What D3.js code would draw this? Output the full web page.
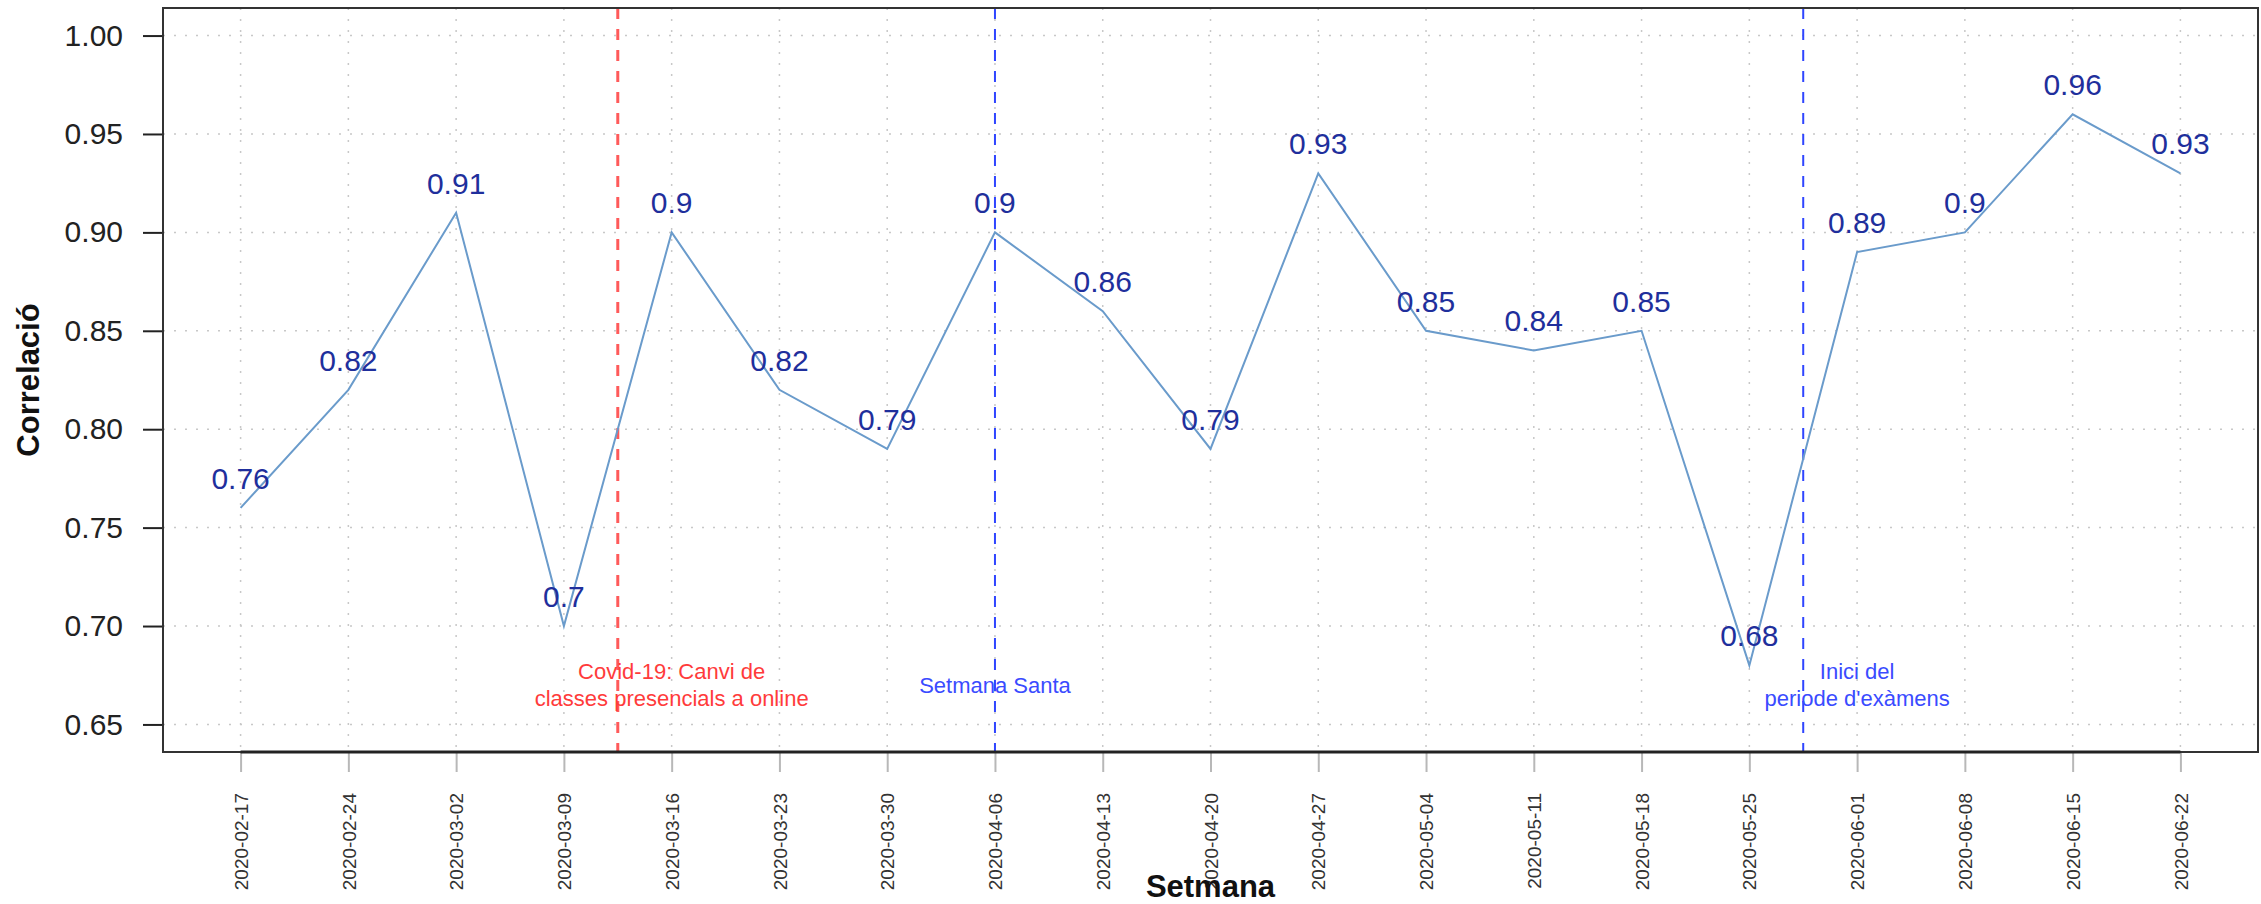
<!DOCTYPE html>
<html>
<head>
<meta charset="utf-8">
<script src="https://cdn.jsdelivr.net/npm/d3@7"></script>
<style>
  body { margin: 0; background: #fff; }
  svg { display: block; font-family: "Liberation Sans", Arial, Helvetica, sans-serif; }
</style>
</head>
<body>
<div id="chart"></div>
<script>
// weeks on the x axis
let weeks = ["2020-02-17", "2020-02-24", "2020-03-02", "2020-03-09", "2020-03-16",
    "2020-03-23", "2020-03-30", "2020-04-06", "2020-04-13", "2020-04-20",
    "2020-04-27", "2020-05-04", "2020-05-11", "2020-05-18", "2020-05-25",
    "2020-06-01", "2020-06-08", "2020-06-15", "2020-06-22"];
let corr = [0.76, 0.82, 0.91, 0.70, 0.90, 0.82, 0.79, 0.90, 0.86, 0.79,
    0.93, 0.85, 0.84, 0.85, 0.68, 0.89, 0.90, 0.96, 0.93];
let yTicks = [0.65, 0.70, 0.75, 0.80, 0.85, 0.90, 0.95, 1.00];

// event markers (position in week index, 1-based)
let eventPos = [4.5, 8, 15.5];
let eventColor = ["#ff5a5a", "#2f45ff", "#2f45ff"];
let noteX = [5, 8, 16];
let noteY = [0.67, 0.67, 0.67];
let noteText = [
    ["Covid-19: Canvi de", "classes presencials a online"],
    ["Setmana Santa"],
    ["Inici del", "periode d'exàmens"]
];
let noteColor = ["#ff3b3b", "#3a4bff", "#3a4bff"];

let width = 2261, height = 904;
let plot = { left: 163, right: 2258, top: 8, bottom: 752 };

let svg = d3.select("#chart")
    .append("svg")
    .attr("width", width)
    .attr("height", height);

let x = d3.scaleLinear()
    .domain([1 - 0.72, weeks.length + 0.72])
    .range([plot.left, plot.right]);
let y = d3.scaleLinear()
    .domain([0.636, 1.014])
    .range([plot.bottom, plot.top]);

let idx = weeks.map((d, i) => i + 1);

// grid
svg.append("g").selectAll("line").data(yTicks).enter()
    .append("line")
    .attr("x1", plot.left).attr("x2", plot.right)
    .attr("y1", d => y(d)).attr("y2", d => y(d))
    .attr("stroke", "#c8c8c8").attr("stroke-width", 1.5)
    .attr("stroke-dasharray", "2,9");
svg.append("g").selectAll("line").data(idx).enter()
    .append("line")
    .attr("x1", d => x(d)).attr("x2", d => x(d))
    .attr("y1", plot.top).attr("y2", plot.bottom)
    .attr("stroke", "#c8c8c8").attr("stroke-width", 1.5)
    .attr("stroke-dasharray", "2,9");

// event lines
svg.append("g").selectAll("line").data(eventPos).enter()
    .append("line")
    .attr("x1", d => x(d)).attr("x2", d => x(d))
    .attr("y1", plot.top).attr("y2", plot.bottom)
    .attr("stroke", (d, i) => eventColor[i])
    .attr("stroke-width", (d, i) => i == 0 ? 3 : 2)
    .attr("stroke-dasharray", "11,10");

// notes
noteText.forEach((lines, i) => {
    let t = svg.append("text")
        .attr("x", x(noteX[i]))
        .attr("y", y(noteY[i]))
        .attr("text-anchor", "middle")
        .style("font-size", "22px")
        .attr("fill", noteColor[i]);
    let off = -(lines.length - 1) * 13.5;
    lines.forEach((l, j) => {
        t.append("tspan")
            .attr("x", x(noteX[i]))
            .attr("y", y(noteY[i]) + off + j * 27)
            .attr("dy", "0.35em")
            .text(l);
    });
});

// line
let line = d3.line()
    .x((d, i) => x(i + 1))
    .y(d => y(d));
svg.append("path")
    .datum(corr)
    .attr("d", line)
    .attr("fill", "none")
    .attr("stroke", "#6a9bcb")
    .attr("stroke-width", 2);

// value labels
svg.append("g").selectAll("text").data(corr).enter()
    .append("text")
    .attr("x", (d, i) => x(i + 1))
    .attr("y", d => y(d) - 19)
    .attr("text-anchor", "middle")
    .style("font-size", "30px")
    .attr("fill", "#1f2f9c")
    .text(d => String(d));

// y axis
let yAxis = svg.append("g")
    .attr("transform", `translate(${plot.left},0)`)
    .call(d3.axisLeft(y).tickValues(yTicks).tickFormat(d3.format(".2f")).tickSize(20).tickPadding(20));
yAxis.select(".domain").remove();
yAxis.selectAll(".tick line").attr("stroke", "#222").attr("stroke-width", 2);
yAxis.selectAll(".tick text")
    .style("font-size", "30px")
    .style("font-family", "'Liberation Sans', Arial, sans-serif")
    .attr("fill", "#222");

// x axis
let xAxis = svg.append("g")
    .attr("transform", `translate(0,${plot.bottom})`)
    .call(d3.axisBottom(x).tickValues(idx).tickFormat(d => weeks[d - 1]).tickSize(20));
xAxis.select(".domain").remove();
xAxis.selectAll(".tick line").attr("stroke", "#b8b8b8").attr("stroke-width", 2);
xAxis.selectAll(".tick text")
    .attr("transform", "rotate(-90)")
    .attr("text-anchor", "end")
    .attr("x", -41)
    .attr("y", 0)
    .attr("dy", "0.35em")
    .style("font-size", "19px")
    .style("font-family", "'Liberation Sans', Arial, sans-serif")
    .attr("fill", "#333");

// box
svg.append("rect")
    .attr("x", plot.left).attr("y", plot.top)
    .attr("width", plot.right - plot.left)
    .attr("height", plot.bottom - plot.top)
    .attr("fill", "none")
    .attr("stroke", "#333")
    .attr("stroke-width", 2);
svg.append("line")
    .attr("x1", x(1)).attr("x2", x(weeks.length))
    .attr("y1", plot.bottom).attr("y2", plot.bottom)
    .attr("stroke", "#222").attr("stroke-width", 3);

// titles
svg.append("text")
    .attr("x", (plot.left + plot.right) / 2)
    .attr("y", 897)
    .attr("text-anchor", "middle")
    .style("font-size", "31px")
    .style("font-weight", "bold")
    .attr("fill", "#111")
    .text("Setmana");
svg.append("text")
    .attr("transform", `translate(39, ${(plot.top + plot.bottom) / 2}) rotate(-90)`)
    .attr("text-anchor", "middle")
    .style("font-size", "31px")
    .style("font-weight", "bold")
    .attr("fill", "#111")
    .text("Correlació");
</script>
</body>
</html>
